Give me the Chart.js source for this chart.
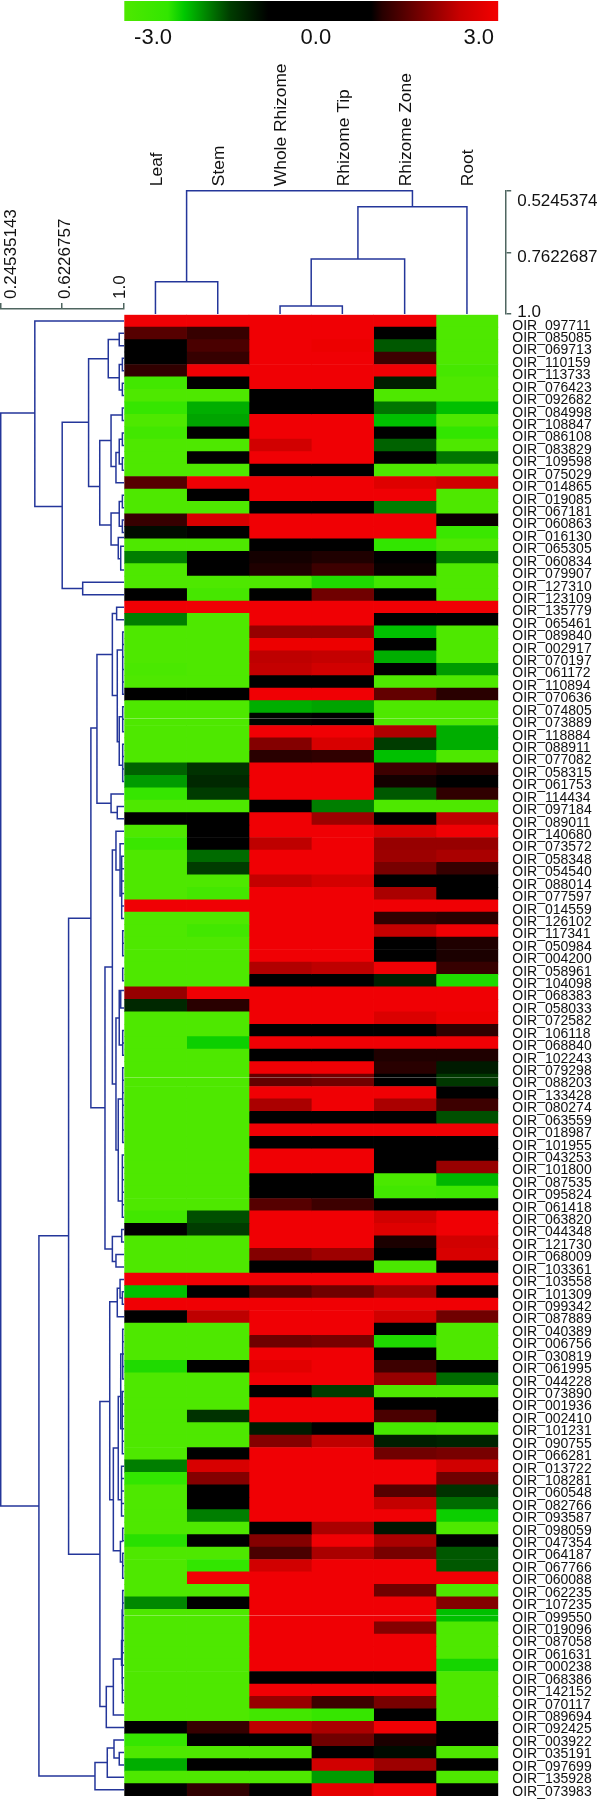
<!DOCTYPE html>
<html>
<head>
<meta charset="utf-8">
<title>Heatmap</title>
<script src="https://cdn.jsdelivr.net/npm/chart.js@4"></script>
<style>
  html, body { margin: 0; padding: 0; background: #fff; }
  #page { position: relative; width: 600px; height: 1800px; overflow: hidden; }
  canvas { position: absolute; display: block; }
</style>
</head>
<body>
<div id="page">
  <canvas id="colorbar" width="375" height="60" style="left:124px;top:0"></canvas>
  <canvas id="colTree" width="476" height="280" style="left:124px;top:50px"></canvas>
  <canvas id="rowTree" width="132" height="1650" style="left:0;top:150px"></canvas>
  <canvas id="heat" width="476" height="1486" style="left:124px;top:314px"></canvas>
</div>
<script>
// tissues and gene ids
const tissues = ["Leaf", "Stem", "Whole Rhizome", "Rhizome Tip", "Rhizome Zone", "Root"];
const rowLabels = [
  "097711","085085","069713","110159","113733","076423","092682","084998","108847","086108",
  "083829","109598","075029","014865","019085","067181","060863","016130","065305","060834",
  "079907","127310","123109","135779","065461","089840","002917","070197","061172","110894",
  "070636","074805","073889","118884","088911","077082","058315","061753","114434","097184",
  "089011","140680","073572","058348","054540","088014","077597","014559","126102","117341",
  "050984","004200","058961","104098","068383","058033","072582","106118","068840","102243",
  "079298","088203","133428","080274","063559","018987","101955","043253","101800","087535",
  "095824","061418","063820","044348","121730","068009","103361","103558","101309","099342",
  "087889","040389","006756","030819","061995","044228","073890","001936","002410","101231",
  "090755","066281","013722","108281","060548","082766","093587","098059","047354","064187",
  "067766","060088","062235","107235","099550","019096","087058","061631","000238","068386",
  "142152","070117","089694","092425","003922","035191","097699","135928","073983"
].map(id => "OIR_" + id);

// expression per row, one value per tissue
const heatValues = [
  [3,3,3,3,3,-3],[1.5,1.25,3,3,0,-3],[0,1.4,3,2.9,-1.45,-3],[0,1.25,3,3,1.3,-3],[1.2,3,3,3,3,-2.8],
  [-2.7,0,3,3,-1,-3],[-3,-3,0,0,-3,-3],[-2.4,-1.9,0,0,-1.6,-2],[-3,-1.85,3,3,-2,-3],[-2.7,0,3,3,0,-2.3],
  [-3,-3,2.5,3,-1.5,-3],[-3,0,3,3,0,-1.6],[-3,-3,0,0,-3,-3],[1.5,3,3,3,2.7,2.5],[-3,0,3,3,3,-3],
  [-3,-3,0,0,-1.65,-3],[1.25,2.6,3,3,3,1],[-0.8,0,3,3,3,-2.5],[-3,-3,0,0,-2.3,-3],[-1.65,0,1.05,1.1,0,-1.65],
  [-3,0,1.1,1.3,1,-3],[-3,-3,-3,-2.2,-2.7,-3],[0,-2.8,-0.7,1.7,0,-3],[3,3,3,3,3,3],[-1.65,-3,3,3,0,0],
  [-3,-3,2,2,-2,-3],[-3,-3,2.9,2.9,0,-3],[-3,-3,2.3,2.35,-1.9,-3],[-2.9,-3,2.35,2.5,0,-1.8],[-3,-3,0,0,-3,-3],
  [0,0,3,3,1.6,1.15],[-3,-3,-1.9,-1.85,-3,-3],[-3,-3,-0.75,0,-3,-3],[-3,-3,3,3,2.2,-1.9],[-3,-3,1.85,2.6,-1.3,-1.9],
  [-3,-3,1.15,1.2,-2,-3],[-1.5,-1.2,3,3,1.3,1.15],[-1.8,-1.1,3,3,1.05,0],[-2.4,-1.3,3,3,-1.45,1.2],[-3,-3,0,-1.65,-3,-3],
  [0,0,3,2.05,0,2.3],[-3,0,3,3,2.6,3],[-2.5,0,2.3,3,2,2],[-3,-1.55,3,3,2.05,2.15],[-3,-1.3,3,3,1.76,1.25],
  [-3,-3,2.35,2.55,0,0],[-3,-2.75,3,3,2.15,0],[3,3,3,3,3,3],[-3,-3,3,3,1.2,1.15],[-3,-2.7,3,3,2.35,3],
  [-3,-3,3,3,0,1.1],[-3,-3,3,3,0,1.08],[-3,-3,2.2,2.3,3,1.25],[-3,-3,0,0,-1,-2.2],[2,3,3,3,3,3],
  [-1.1,1.15,3,3,3,3],[-3,-3,3,3,2.65,2.9],[-3,-3,0,0,0,1.2],[-3,-2.1,3,3,3,3],[-3,-3,0,0,1.1,1.1],
  [-3,-3,3,3,1.15,-0.95],[-3,-3,1.6,1.7,0,-1.25],[-3,-3,3,3,3,0],[-3,-3,2.15,3,2.15,1.3],[-3,-3,0,0,0,-1.4],
  [-3,-3,3,3,3,3],[-3,-3,0,0,0,0],[-3,-3,3,3,0,0],[-3,-3,3,3,0,2],[-3,-3,0,0,-2.9,-1.95],
  [-3,-3,0,0,-2.7,-2.6],[-3,-3,1.5,1.3,0,0],[-2.7,-1.4,3,3,2.5,3],[0,-1.3,3,3,2.7,3],[-3,-3,3,3,1.08,2.5],
  [-3,-3,1.85,2.05,0,2.6],[-3,-3,0,0,-2.9,0],[3,3,3,3,3,3],[-2,0,1.5,1.7,2.05,0],[3,3,3,3,3,3],
  [0,2.3,3,3,2.5,1.7],[-3,-3,3,3,0,-3],[-3,-3,1.7,1.76,-2.2,-3],[-3,-3,3,3,0,-3],[-2.2,0,2.75,3,1.3,0],
  [-3,-3,3,3,2,-1.55],[-3,-3,0,-1.3,-3,-3],[-3,-3,3,3,0,0],[-3,-1.2,3,3,1.4,0],[-3,-3,-0.95,0,-2.8,-2.9],
  [-3,-3,1.85,2.3,-1,-1.05],[-3,0,3,3,1.7,1.76],[-1.65,2.6,3,3,3,2.5],[-2.3,1.85,3,3,3,1.7],[-3,0,3,3,1.5,-1.2],
  [-3,0,3,3,2.35,-1.55],[-3,-1.65,3,3,3,-2.1],[-3,-3,0,2.15,-0.9,-3],[-2.25,0,1.85,3,2.15,0],[-3,-3,1.4,2.15,1.76,-1.45],
  [-3,-2.3,2.5,3,3,-1.45],[-3,3,3,3,3,3],[-3,-3,3,3,1.7,-3],[-1.7,0,3,3,3,1.85],[-3,-3,3,3,3,-2],
  [-3,-3,3,3,1.85,-3],[-3,-3,3,3,3,-3],[-3,-3,3,3,3,-3],[-3,-3,3,3,3,-2.15],[-3,-3,0,0,0,-3],
  [-3,-3,3,3,3,-3],[-3,-3,2,1.3,1.76,-3],[-3,-3,-2.7,-2.4,0,-3],[0,1.25,2.3,2.15,3,0],[-2.4,0,0,1.7,1.08,0],
  [-3,-3,-3,0,-0.8,-3],[-1.9,0,0,2.5,2.05,0],[-3,-3,-3,-1.8,0,-3],[0,1.2,0,2.8,3,0]
];

// colour legend
const colorTicks = [-3, 0, 3];
const colorbarRange = [-3.53, 3.36];
const colorStopValues = [-3, -2.3, -2.04, -1.3, -0.69, 0.96, 1.14, 1.76, 2.38, 2.94, 3];
const colorStopRgb = [
  [78,232,0],[50,230,0],[0,200,0],[0,60,0],[0,0,0],[0,0,0],[40,0,0],[120,0,0],[200,0,0],[240,0,0],[240,0,4]
];

// tissue tree: [join, left, right, leftChild, rightChild], height on the distance axis
const colDistTicks = [0.5245374, 0.7622687, 1.0];
const colLinks = [
  [0.8755, 0.5, 1.5, 1, 1],
  [0.9692, 2.5, 3.5, 1, 1],
  [0.7879, 3, 4.5, 0.9692, 1],
  [0.5862, 3.75, 5.5, 0.7879, 1],
  [0.5245, 1, 4.625, 0.8755, 0.5862]
];

// gene tree: [join, top, bottom, topChild, bottomChild], top and bottom in rows
const rowDistTicks = [0.24535143, 0.6226757, 1.0];
const rowLinks = [
  [.248,7.9,95.7,.456,.481],[.456,.5,15.4,1,.623],[.623,8.64,22,.784,.748],[.748,21.5,22.5,1,1],
  [.784,3.53,13.8,.904,.852],[.904,2,5.06,.971,.971],[.971,1.5,2.5,1,1],[.971,4,6.05,.99,.99],
  [.99,3.5,4.5,1,1],[.99,5.5,6.5,1,1],[.852,10.1,16.9,.921,.921],[.921,8.06,12.2,.99,.951],
  [.99,7.5,8.5,1,1],[.951,11.08,13.5,.971,1],[.971,10,12,.99,.99],[.99,9.5,10.5,1,1],
  [.99,11.5,12.5,1,1],[.921,15.93,18.5,.971,.965],[.971,15,17,.99,.99],[.99,14.5,15.5,1,1],
  [.99,16.5,17.5,1,1],[.965,17.9,19.6,1,.98],[.98,18.6,20.5,1,1],
  [.481,74,117.4,.662,.823],[.662,48.48,99.57,.798,.853],[.798,33.2,63.7,.835,.884],
  [.835,27.3,39.25,.929,.921],[.929,24,30.6,.955,.959],[.955,23.5,24.5,1,1],[.959,26.94,34.3,.992,.971],
  [.971,32.3,36.2,.992,.992],[.921,38.5,40,1,.959],[.959,39.5,40.5,1,1],[.884,52.4,75.05,.929,.929],
  [.929,43,61.8,.951,.951],[.951,41.5,44.6,1,.976],[.976,42.5,46.7,1,.986],[.971,54.3,58.66,.98,.992],
  [.98,54.3,55.7,1,1],[.951,56.5,67.1,.971,.965],[.965,63,71.2,.992,.99],[.929,74.05,76.07,.986,.951],
  [.986,73.5,74.5,1,1],[.951,75.5,76.5,1,1],[.853,87.3,111.8,.913,.892],[.913,79.3,95.2,.959,.935],
  [.959,78.2,80.5,.976,1],[.976,77.5,79,1,.99],[.99,78.5,79.5,1,1],[.935,91.05,99.3,.965,.978],
  [.965,86.9,95.2,.98,.985],[.98,83.5,89.5,.992,.99],[.978,98.55,100.2,.992,.992],[.892,110.2,113.5,.935,1],
  [.935,108,112.5,.988,1],[.988,104,110,.992,.99],[.823,116.3,118.5,.898,1],[.898,115.15,117.5,.939,1],
  [.939,114.5,115.95,1,.971],[.971,115.5,116.5,1,1]
];
// tight runs of leaves: [join, firstRow, lastRow]
const rowCombs = [
  [.992,25.5,30.5],[.992,31.5,33.5],[.992,34.5,37.5],[.986,43.5,48.5],[.992,49.5,51.5],[.992,52.5,53.5],
  [.992,57.5,59.5],[.992,60.5,66.5],[.99,67.5,72.5],[.992,81.5,85.5],[.99,86.5,91.5],[.985,92.5,96.5],
  [.992,97.5,98.5],[.992,99.5,101.5],[.992,102.5,105.5],[.985,106.5,108.5],[.99,109.5,111.5]
];
// pale seams across the scan, on the row name axis
const seamRows = [32.56, 61.47, 104.75];

const treeColor = "#24369a";
const axisColor = "#4f6660";

Chart.defaults.font.family = "'Liberation Sans', Arial, sans-serif";
Chart.defaults.color = "#111";
Chart.defaults.animation = false;
Chart.defaults.responsive = false;
Chart.defaults.plugins.legend.display = false;
Chart.defaults.plugins.tooltip.enabled = false;

function rgbFor(v) {
  let i = 0;
  while (i < colorStopValues.length - 2 && v > colorStopValues[i + 1]) i++;
  const a = colorStopValues[i], b = colorStopValues[i + 1];
  const t = Math.min(1, Math.max(0, (v - a) / (b - a)));
  return colorStopRgb[i].map((c, k) => Math.round(c + (colorStopRgb[i + 1][k] - c) * t));
}
const colorFor = v => "rgb(" + rgbFor(v).join(",") + ")";

// lock an axis to a given thickness so the plot areas line up
function fixSize(size) {
  return function (scale) {
    if (scale.isHorizontal()) scale.height = size; else scale.width = size;
    scale.paddingLeft = scale.paddingRight = scale.paddingTop = scale.paddingBottom = 0;
  };
}
const tickValues = values => axis => { axis.ticks = values.map(value => ({ value })); };
const distLabel = v => (v === 1 ? "1.0" : String(v));

// turn brackets into one broken line
function bracketPoints(links, horizontal) {
  const pts = [];
  const add = (d, pos) => pts.push(horizontal ? { x: pos, y: d } : { x: d, y: pos });
  links.forEach(([join, a, b, childA, childB]) => {
    add(childA, a); add(join, a); add(join, b); add(childB, b);
    pts.push({ x: NaN, y: NaN });
  });
  return pts;
}
function combLinks() {
  const out = [];
  rowCombs.forEach(([join, first, last]) => {
    out.push([join, first, last, 1, 1]);
    for (let r = first + 1; r < last; r++) out.push([join, r, r, 1, 1]);
  });
  return out;
}

const seamPlugin = {
  id: "seams",
  afterDatasetsDraw(chart) {
    const { ctx, chartArea, scales } = chart;
    ctx.save();
    ctx.strokeStyle = "rgba(255,255,255,0.3)";
    ctx.lineWidth = 1;
    seamRows.forEach(v => {
      const y = Math.round(scales.yNames.getPixelForValue(v)) + 0.5;
      ctx.beginPath();
      ctx.moveTo(chartArea.left, y);
      ctx.lineTo(chartArea.right, y);
      ctx.stroke();
    });
    ctx.restore();
  }
};

// colour legend
new Chart(document.getElementById("colorbar"), {
  type: "bar",
  data: {
    labels: ["scale"],
    datasets: [{
      data: [colorbarRange],
      barPercentage: 1,
      categoryPercentage: 1,
      backgroundColor(ctx) {
        const area = ctx.chart.chartArea;
        if (!area) return "#000";
        const g = ctx.chart.ctx.createLinearGradient(area.left, 0, area.right, 0);
        colorStopValues.forEach((v, i) => g.addColorStop((v + 3) / 6, colorFor(v)));
        return g;
      }
    }]
  },
  options: {
    indexAxis: "y",
    layout: { padding: { top: 1, left: 0.3, right: 0.7 } },
    scales: {
      y: { display: false },
      x: {
        min: colorbarRange[0],
        max: colorbarRange[1],
        afterBuildTicks: tickValues(colorTicks),
        afterFit: fixSize(39),
        grid: { display: false, drawTicks: false },
        border: { display: false },
        ticks: { font: { size: 22 }, padding: 4, maxRotation: 0, callback: v => v.toFixed(1) }
      }
    }
  }
});

// tissue dendrogram with its distance bracket on the right
new Chart(document.getElementById("colTree"), {
  type: "scatter",
  data: {
    datasets: [{
      data: bracketPoints(colLinks, true),
      showLine: true,
      clip: false,
      pointRadius: 0,
      borderColor: treeColor,
      borderWidth: 1.5
    }]
  },
  options: {
    layout: { padding: { left: 0.3, bottom: 16 } },
    scales: {
      x: {
        position: "top",
        min: 0,
        max: 6.13,
        afterBuildTicks: tickValues(tissues.map((t, i) => i + 0.5)),
        afterFit: fixSize(140.7),
        grid: { display: false, drawTicks: false },
        border: { display: false },
        ticks: {
          font: { size: 17.4 },
          padding: 4.5,
          labelOffset: 22.4,
          minRotation: 90,
          maxRotation: 90,
          autoSkip: false,
          callback: v => tissues[Math.floor(v)]
        }
      },
      y: {
        position: "right",
        reverse: true,
        min: 0.5245,
        max: 1,
        weight: 0,
        afterBuildTicks: tickValues(colDistTicks),
        afterFit: fixSize(6),
        grid: { drawOnChartArea: false, tickLength: 5, color: axisColor, lineWidth: 1.5 },
        border: { color: axisColor, width: 1.5 },
        ticks: { display: false }
      },
      yLabels: {
        axis: "y",
        position: "right",
        reverse: true,
        min: 0.4777,
        max: 1.0055,
        weight: 1,
        afterBuildTicks: tickValues(colDistTicks),
        afterFit: fixSize(87.8),
        grid: { display: false, drawTicks: false },
        border: { display: false },
        ticks: { font: { size: 17 }, padding: 5, callback: distLabel }
      }
    }
  }
});

// gene dendrogram with its distance bracket on top
new Chart(document.getElementById("rowTree"), {
  type: "scatter",
  data: {
    datasets: [{
      data: bracketPoints(rowLinks.concat(combLinks()), false),
      showLine: true,
      clip: false,
      pointRadius: 0,
      borderColor: treeColor,
      borderWidth: 1.5
    }]
  },
  options: {
    layout: { padding: { right: 8, bottom: 4 } },
    scales: {
      x: {
        position: "top",
        min: 0.2436,
        max: 1,
        weight: 0,
        afterBuildTicks: tickValues(rowDistTicks),
        afterFit: fixSize(6),
        grid: { drawOnChartArea: false, tickLength: 6, color: axisColor, lineWidth: 1.5 },
        border: { color: axisColor, width: 1.5 },
        ticks: { display: false }
      },
      xLabels: {
        axis: "x",
        position: "top",
        min: 0.1742,
        max: 1.0311,
        weight: 1,
        afterBuildTicks: tickValues(rowDistTicks),
        afterFit: fixSize(153),
        grid: { display: false, drawTicks: false },
        border: { display: false },
        ticks: {
          font: { size: 17 },
          padding: 4,
          labelOffset: 21,
          minRotation: 90,
          maxRotation: 90,
          autoSkip: false,
          callback: distLabel
        }
      },
      y: { display: false, reverse: true, min: -0.458, max: 119 }
    }
  }
});

// the heat map: one stacked unit bar per tissue in every row
new Chart(document.getElementById("heat"), {
  type: "bar",
  data: {
    labels: rowLabels,
    datasets: tissues.map((tissue, c) => ({
      label: tissue,
      data: rowLabels.map(() => 1),
      backgroundColor: heatValues.map(row => colorFor(row[c])),
      barPercentage: 1,
      categoryPercentage: 1,
      borderWidth: 0
    }))
  },
  options: {
    indexAxis: "y",
    layout: { padding: { top: 0.7, left: 0.3, bottom: 4 } },
    scales: {
      x: { display: false, stacked: true, min: 0, max: tissues.length },
      y: { display: false, stacked: true },
      yNames: {
        axis: "y",
        type: "linear",
        offset: false,
        position: "right",
        reverse: true,
        min: 0.107,
        max: 119.35,
        afterBuildTicks: tickValues(rowLabels.map((n, i) => i + 1)),
        afterFit: fixSize(101.7),
        grid: { display: false, drawTicks: false, offset: false },
        border: { display: false },
        ticks: {
          font: { size: 14 },
          color: "#111",
          padding: 14,
          autoSkip: false,
          callback: v => rowLabels[v - 1]
        }
      }
    }
  },
  plugins: [seamPlugin]
});
</script>
</body>
</html>
